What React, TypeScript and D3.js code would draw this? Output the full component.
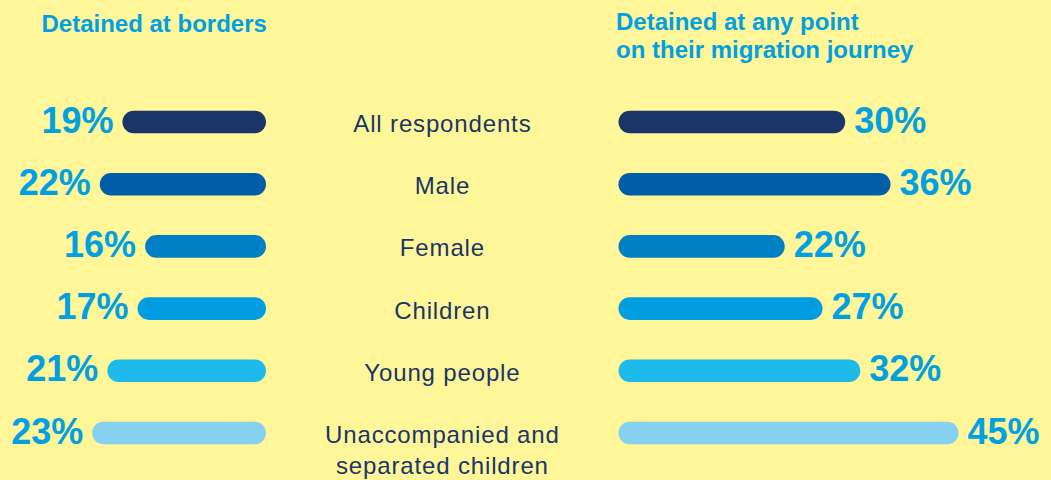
import React from "react";
import * as d3 from "d3";

const categories: string[][] = [
  ["All respondents"],
  ["Male"],
  ["Female"],
  ["Children"],
  ["Young people"],
  ["Unaccompanied and", "separated children"],
];
const bordersValues = [19, 22, 16, 17, 21, 23];
const journeyValues = [30, 36, 22, 27, 32, 45];
const barColors = ["#1a3668", "#005ea8", "#0080c4", "#009ee0", "#1ebbea", "#86d0f0"];
const leftTitle = ["Detained at borders"];
const rightTitle = ["Detained at any point", "on their migration journey"];

const W = 1051;
const H = 480;
const BG = "#fff599";
const LABEL_BLUE = "#00a0e2";
const NAVY = "#1a3668";
const FONT = "'Liberation Sans', Arial, Helvetica, sans-serif";

export default function App() {
  const x = d3.scaleLinear().domain([0, 45]).range([0, 340]);
  const keys = categories.map((c) => c.join(" "));
  const y = d3.scalePoint<string>().domain(keys).range([122, 433]);
  const barH = 22.6;
  const leftEnd = 266;
  const rightStart = 618.5;
  const centerX = 442.4;
  const gap = 9;

  return (
    <svg
      width={W}
      height={H}
      style={{ position: "fixed", left: 0, top: 0, display: "block" }}
    >
      <rect x={0} y={0} width={W} height={H} fill={BG} />
      {leftTitle.map((t, i) => (
        <text
          key={"lt" + i}
          x={41.5}
          y={31.5 + i * 28}
          fontFamily={FONT}
          fontWeight="bold"
          fontSize={24}
          fill={LABEL_BLUE}
        >
          {t}
        </text>
      ))}
      {rightTitle.map((t, i) => (
        <text
          key={"rt" + i}
          x={616}
          y={29.5 + i * 28}
          fontFamily={FONT}
          fontWeight="bold"
          fontSize={24}
          fill={LABEL_BLUE}
        >
          {t}
        </text>
      ))}
      {keys.map((k, i) => {
        const cy = y(k) as number;
        const wl = x(bordersValues[i]);
        const wr = x(journeyValues[i]);
        return (
          <g key={k}>
            <rect
              x={leftEnd - wl}
              y={cy - barH / 2}
              width={wl}
              height={barH}
              rx={barH / 2}
              fill={barColors[i]}
            />
            <text
              x={leftEnd - wl - gap}
              y={cy + 10.5}
              textAnchor="end"
              fontFamily={FONT}
              fontWeight="bold"
              fontSize={36}
              fill={LABEL_BLUE}
            >
              {bordersValues[i] + "%"}
            </text>
            <rect
              x={rightStart}
              y={cy - barH / 2}
              width={wr}
              height={barH}
              rx={barH / 2}
              fill={barColors[i]}
            />
            <text
              x={rightStart + wr + gap}
              y={cy + 10.5}
              textAnchor="start"
              fontFamily={FONT}
              fontWeight="bold"
              fontSize={36}
              fill={LABEL_BLUE}
            >
              {journeyValues[i] + "%"}
            </text>
            {categories[i].map((line, j) => (
              <text
                key={j}
                x={centerX}
                y={cy + 10 + j * 30.5}
                textAnchor="middle"
                fontFamily={FONT}
                fontSize={24}
                letterSpacing={0.85}
                fill={NAVY}
              >
                {line}
              </text>
            ))}
          </g>
        );
      })}
    </svg>
  );
}
